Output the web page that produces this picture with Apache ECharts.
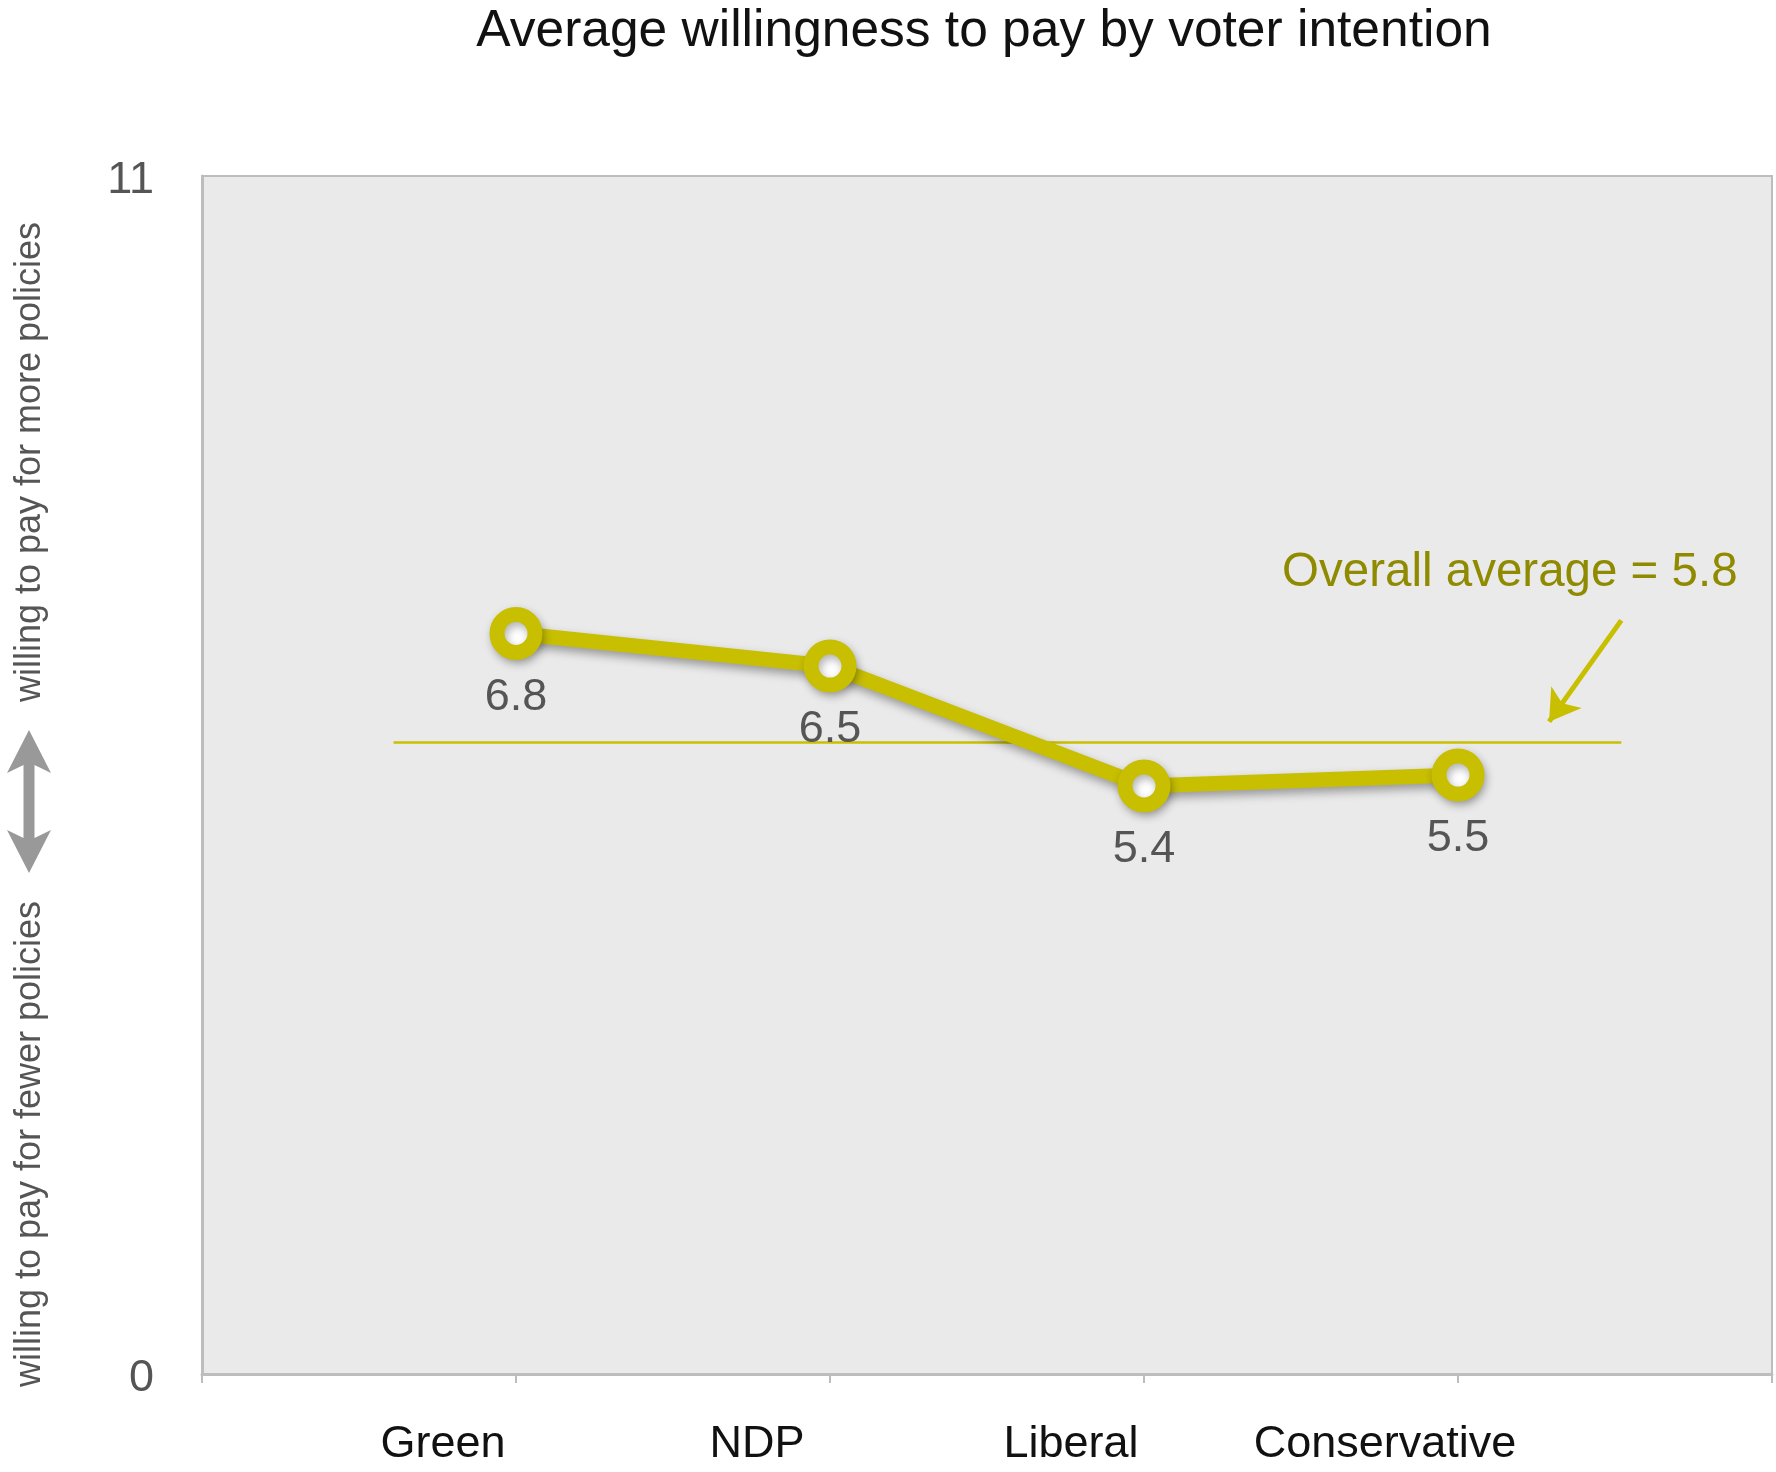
<!DOCTYPE html>
<html>
<head>
<meta charset="utf-8">
<script src="https://cdn.jsdelivr.net/npm/echarts@6/dist/echarts.min.js"></script>
<style>
  html, body { margin: 0; padding: 0; background: #fff; }
  #main { width: 1776px; height: 1472px; }
</style>
</head>
<body>
<div id="main"></div>
<script>
// categories sit at x = 1..4, x = 0 and 5 are empty edge slots
var categories = ['', 'Green', 'NDP', 'Liberal', 'Conservative', ''];
var willingness = [6.8, 6.5, 5.4, 5.5];
var overallAverage = 5.8;
var yTicks = [0, 11];

var olive = '#c8bf00';
var font = '"Liberation Sans", Arial, sans-serif';

var chart = echarts.init(document.getElementById('main'));

var seriesData = willingness.map(function (v, i) {
  return [i + 1, v];
});

var option = {
  animation: false,
  backgroundColor: '#fff',
  title: {
    text: 'Average willingness to pay by voter intention',
    left: 979,
    top: 1,
    textAlign: 'center',
    textStyle: {
      fontFamily: font,
      fontSize: 51.5,
      fontWeight: 'normal',
      color: '#111'
    }
  },
  grid: {
    left: 202,
    top: 176,
    right: 4,
    bottom: 98,
    show: true,
    backgroundColor: '#eaeaea',
    borderColor: '#bdbdbd',
    borderWidth: 2
  },
  xAxis: {
    type: 'value',
    min: 0,
    max: categories.length - 1,
    interval: 1,
    splitLine: { show: false },
    axisLine: { show: true, lineStyle: { color: '#bdbdbd', width: 3 } },
    axisTick: { show: true, length: 9, lineStyle: { color: '#bdbdbd', width: 2 } },
    axisLabel: {
      margin: 48,
      fontFamily: font,
      fontSize: 45,
      color: '#111',
      padding: [0, 146, 0, 0],
      formatter: function (v) {
        return categories[v] || '';
      }
    }
  },
  yAxis: {
    type: 'value',
    min: yTicks[0],
    max: yTicks[1],
    interval: yTicks[1] - yTicks[0],
    splitLine: { show: false },
    axisLine: { show: true, lineStyle: { color: '#bdbdbd', width: 3 } },
    axisTick: { show: false },
    axisLabel: {
      margin: 48,
      fontFamily: font,
      fontSize: 45,
      color: '#555',
      verticalAlign: 'top',
      lineHeight: 10
    }
  },
  series: [{
    type: 'line',
    data: seriesData,
    symbol: 'circle',
    symbolSize: 38,
    lineStyle: {
      color: olive,
      width: 15,
      shadowColor: 'rgba(0,0,0,0.35)',
      shadowBlur: 10,
      shadowOffsetX: 2,
      shadowOffsetY: 5
    },
    itemStyle: {
      color: '#fff',
      borderColor: olive,
      borderWidth: 15,
      shadowColor: 'rgba(0,0,0,0.3)',
      shadowBlur: 8,
      shadowOffsetX: 2,
      shadowOffsetY: 4
    },
    label: {
      show: true,
      position: 'bottom',
      distance: 15,
      fontFamily: font,
      fontSize: 45,
      color: '#555',
      formatter: function (p) {
        return p.value[1].toFixed(1);
      }
    },
    emphasis: { disabled: true },
    z: 3,
    markLine: {
      silent: true,
      symbol: ['none', 'none'],
      label: { show: false },
      z: 2,
      data: [
        [
          { coord: [0.61, overallAverage], lineStyle: { color: olive, width: 2.5, type: 'solid' } },
          { coord: [4.52, overallAverage] }
        ],
        [
          { coord: [4.52, 6.92], symbol: 'none', lineStyle: { color: olive, width: 5, type: 'solid' } },
          { coord: [4.29, 5.99], symbol: 'arrow', symbolSize: [28, 30] }
        ]
      ]
    },
    markPoint: {
      silent: true,
      symbol: 'circle',
      symbolSize: 0,
      data: [{
        coord: [4.165, 7.36],
        label: {
          show: true,
          position: 'inside',
          formatter: 'Overall average = ' + overallAverage,
          fontFamily: font,
          fontSize: 47.5,
          color: '#8f8a00'
        }
      }]
    }
  }],
  graphic: [
    {
      type: 'text',
      x: 30,
      y: 462,
      rotation: Math.PI / 2,
      style: {
        text: 'willing to pay for more policies',
        fontFamily: font,
        fontSize: 36,
        fill: '#555',
        textAlign: 'center',
        textVerticalAlign: 'middle'
      }
    },
    {
      type: 'text',
      x: 30,
      y: 1144,
      rotation: Math.PI / 2,
      style: {
        text: 'willing to pay for fewer policies',
        fontFamily: font,
        fontSize: 36,
        fill: '#555',
        textAlign: 'center',
        textVerticalAlign: 'middle'
      }
    },
    {
      type: 'polygon',
      shape: {
        points: [
          [29, 730], [51, 773], [34.5, 765], [34.5, 838], [51, 830],
          [29, 873], [7, 830], [23.5, 838], [23.5, 765], [7, 773]
        ]
      },
      style: { fill: '#999' }
    }
  ]
};

chart.setOption(option);
</script>
</body>
</html>
